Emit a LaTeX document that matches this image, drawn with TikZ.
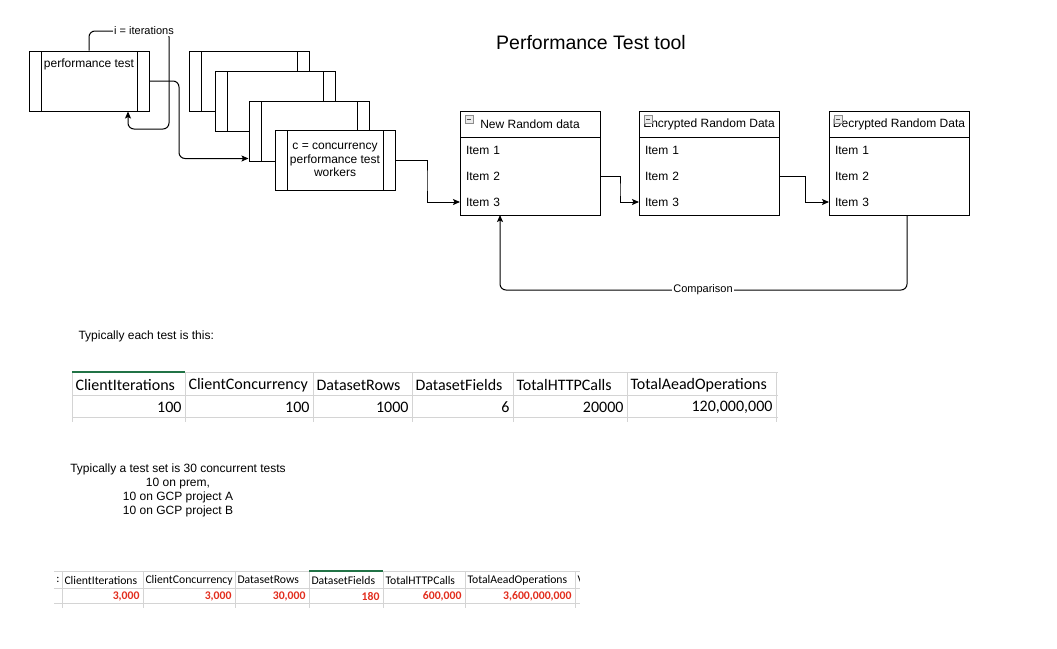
\documentclass[tikz,border=0pt]{standalone}
\usepackage{fontspec}
\setmainfont{Liberation Sans}
\newfontfamily\calibri{Carlito}
\usetikzlibrary{positioning,arrows.meta}

\definecolor{gridgray}{RGB}{212,212,212}
\definecolor{xlgreen}{RGB}{33,115,70}
\definecolor{xlred}{RGB}{226,46,30}

\tikzset{
  procbox/.style={draw, fill=white, minimum width=120pt, minimum height=60pt,
    inner sep=0pt, align=center, font=\fontsize{12}{13.5}\selectfont,
    path picture={
      \draw ([xshift=12pt]path picture bounding box.north west) -- ([xshift=12pt]path picture bounding box.south west)
            ([xshift=-12pt]path picture bounding box.north east) -- ([xshift=-12pt]path picture bounding box.south east);
    }},
  listhead/.style={draw, fill=white, minimum width=140pt, minimum height=26pt,
    inner sep=0pt, outer sep=0pt, font=\fontsize{12}{14}\selectfont},
  listitem/.style={minimum height=26pt, text width=128pt, inner xsep=6pt,
    inner ysep=0pt, outer sep=0pt, align=left, font=\fontsize{12}{14}\selectfont},
  collapse/.style={draw=black!45, fill=black!8, line width=0.5pt, minimum size=8pt, inner sep=0pt,
    path picture={
      \draw[black!70, line width=0.7pt] ([xshift=2pt]path picture bounding box.west) -- ([xshift=-2pt]path picture bounding box.east);
    }},
  conn/.style={draw, -{Stealth[length=7pt,width=6pt,inset=1.5pt]}},
  edgelabel/.style={fill=white, inner sep=1pt, font=\fontsize{11}{13}\selectfont},
  note/.style={font=\fontsize{12}{14}\selectfont, inner sep=0pt},
  grid/.style={draw=gridgray, line width=0.8pt},
  thead/.style={font=\calibri\fontsize{16}{18}\selectfont, inner sep=0pt},
  tdata/.style={font=\calibri\fontsize{16}{18}\selectfont, inner sep=0pt},
  sthead/.style={font=\calibri\fontsize{11.7}{13}\selectfont, inner sep=0pt},
  stdata/.style={font=\calibri\bfseries\fontsize{11.7}{13}\selectfont, text=xlred, inner sep=0pt}
}

\begin{document}
\begin{tikzpicture}[x=1pt,y=-1pt,line width=1pt]
\useasboundingbox (0,0) rectangle (1057,648);

% title
\node[font=\fontsize{19.5}{22}\selectfont] (title) at (591,43) {Performance Test tool};

% test driver
\node[procbox, label={[name=perftext, anchor=center, yshift=-14pt, font=\fontsize{12}{14}\selectfont]north:performance test}] (perf) at (89,81) {};

% stacked workers
\node[procbox] (wA) at (249,81) {};
\node[procbox] (wB) at (275,101) {};
\node[procbox] (wC) at (309,131) {};
\node[procbox] (wD) at (335,160) {c = concurrency\\performance test\\workers};

% iterations loop
\draw[conn, rounded corners=6pt] (perf.north) |- (169,31) |- (128,129) -- ([xshift=39pt]perf.south);
\node[edgelabel] (iterlbl) at (144,31) {i = iterations};

% fan out to workers
\draw[conn, rounded corners=6pt] (perf.east) -| (179,120) |- ([yshift=3pt]wC.south west);

% data lists
\node[listhead] (newhead) at (530,124) {New Random data};
\node[listitem, below=0pt of newhead] (new1) {Item 1};
\node[listitem, below=0pt of new1] (new2) {Item 2};
\node[listitem, below=0pt of new2] (new3) {Item 3};
\draw (newhead.north west) rectangle (new3.south east);
\node[collapse] (newicon) at ([xshift=9pt,yshift=-8pt]newhead.north west) {};

\node[listhead] (enchead) at (709,124) {Encrypted Random Data};
\node[listitem, below=0pt of enchead] (enc1) {Item 1};
\node[listitem, below=0pt of enc1] (enc2) {Item 2};
\node[listitem, below=0pt of enc2] (enc3) {Item 3};
\draw (enchead.north west) rectangle (enc3.south east);
\node[collapse] (encicon) at ([xshift=9pt,yshift=-8pt]enchead.north west) {};

\node[listhead] (dechead) at (899,124) {Decrypted Random Data};
\node[listitem, below=0pt of dechead] (dec1) {Item 1};
\node[listitem, below=0pt of dec1] (dec2) {Item 2};
\node[listitem, below=0pt of dec2] (dec3) {Item 3};
\draw (dechead.north west) rectangle (dec3.south east);
\node[collapse] (decicon) at ([xshift=9pt,yshift=-8pt]dechead.north west) {};

% flow
\draw[conn] (wD.east) -| (427,180) |- (new3.west);
\draw[conn] (new2.east) -| (620,190) |- (enc3.west);
\draw[conn] (enc2.east) -| (805,190) |- (dec3.west);
\draw[conn, rounded corners=6pt] ([xshift=8pt]dec3.south) |- (703,290) -| ([xshift=-30pt]new3.south);
\node[edgelabel] (cmplbl) at (703,290) {Comparison};

% notes
\node[note, anchor=west] (note1) at (78,336) {Typically each test is this:};
\node[note, align=center] (note2) at (178,490) {Typically a test set is 30 concurrent tests\\10 on prem,\\10 on GCP project A\\10 on GCP project B};

% single test table
\foreach \x in {72,185,313,412,513,627,776}
  \draw[grid] (\x,372) -- (\x,422);
\foreach \y in {372,395,417}
  \draw[grid] (72,\y) -- (778,\y);
\draw[xlgreen, line width=1.6pt] (72,372) -- (185,372);
\foreach \l/\r/\h/\v [count=\i] in {72/185/ClientIterations/100, 185/313/ClientConcurrency/100,
    313/412/DatasetRows/1000, 412/513/DatasetFields/6, 513/627/TotalHTTPCalls/20000,
    627/776/TotalAeadOperations/{120,000,000}}
{
  \node[thead, anchor=west] (th\i) at (\l+3,385) {\h};
  \node[tdata, anchor=east] (td\i) at (\r-3,407) {\v};
}

% test set table
\foreach \x in {62,143,235,309,383,465,575}
  \draw[grid] (\x,571) -- (\x,608);
\foreach \y in {571,588,603}
  \draw[grid] (54,\y) -- (580,\y);
\draw[xlgreen, line width=1.6pt] (309,571) -- (383,571);
\foreach \l/\r/\h/\v [count=\i] in {62/143/ClientIterations/{3,000}, 143/235/ClientConcurrency/{3,000},
    235/309/DatasetRows/{30,000}, 309/383/DatasetFields/180, 383/465/TotalHTTPCalls/{600,000},
    465/575/TotalAeadOperations/{3,600,000,000}}
{
  \node[sthead, anchor=west] (sh\i) at (\l+2,580) {\h};
  \node[stdata, anchor=east] (sd\i) at (\r-3,596) {\v};
}
\node[sthead] (lcut) at (58,580) {:};
\begin{scope}
  \clip (576,572) rectangle (579,588);
  \node[sthead, anchor=west] (rcut) at (577,580) {V};
\end{scope}

\end{tikzpicture}
\end{document}
